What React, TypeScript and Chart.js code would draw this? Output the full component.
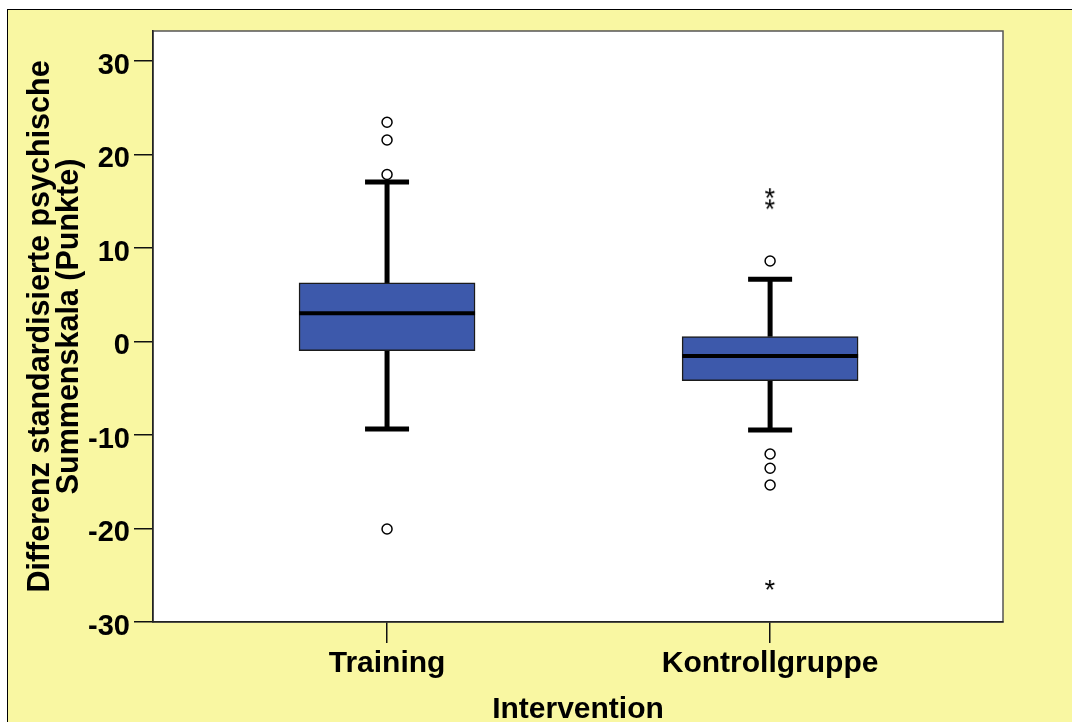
import { useEffect, useRef } from 'react';
import { Chart, registerables } from 'chart.js';

Chart.register(...registerables);

// Group labels along the x axis
const groups = ['Training', 'Kontrollgruppe'];

// Five-number summary per group (Punkte)
const lowerWhisker = [-9.36, -9.47];
const q1 = [-0.98, -4.19];
const median = [3.02, -1.55];
const q3 = [6.26, 0.51];
const upperWhisker = [17.06, 6.65];

// Outliers (circles) and extreme values (asterisks) per group
const outliers = [
  [23.44, 21.55, 17.86, -20.05],
  [8.61, -12.03, -13.56, -15.35],
];
const extremes = [
  [] as number[],
  [15.85, 14.67, -26.04],
];

// Value axis ticks
const yTicks = [-30, -20, -10, 0, 10, 20, 30];

const FONT = 'Arial, "Liberation Sans", sans-serif';
const BOX_FILL = '#3D59AB';
const PAGE_YELLOW = '#F9F7A2';

function makeAsterisk(): HTMLCanvasElement {
  const c = document.createElement('canvas');
  c.width = 20;
  c.height = 20;
  const ctx = c.getContext('2d')!;
  ctx.font = `27px ${FONT}`;
  ctx.fillStyle = '#000';
  ctx.textAlign = 'left';
  ctx.textBaseline = 'alphabetic';
  const m = ctx.measureText('*');
  const w = m.actualBoundingBoxLeft + m.actualBoundingBoxRight;
  const h = m.actualBoundingBoxAscent + m.actualBoundingBoxDescent;
  const x = 10 - w / 2 + m.actualBoundingBoxLeft;
  const y = 10 - h / 2 + m.actualBoundingBoxAscent;
  ctx.fillText('*', x, y);
  return c;
}

// Draws the white plot panel, its frame, whiskers and medians from the data arrays
const boxWhiskerPlugin = {
  id: 'boxWhiskers',
  beforeDraw(chart: any) {
    const { ctx, chartArea: a } = chart;
    ctx.save();
    ctx.fillStyle = '#fff';
    ctx.fillRect(a.left, a.top, a.right - a.left, a.bottom - a.top);
    ctx.strokeStyle = '#555';
    ctx.lineWidth = 1.5;
    ctx.strokeRect(a.left, a.top, a.right - a.left, a.bottom - a.top);
    ctx.restore();
  },
  beforeDatasetsDraw(chart: any) {
    const { ctx, scales } = chart;
    const xs = scales.x;
    const ys = scales.y;
    const capHalf = 22;
    ctx.save();
    ctx.strokeStyle = '#000';
    ctx.lineCap = 'butt';
    groups.forEach((_, i) => {
      const x = xs.getPixelForValue(i + 1);
      const yHi = ys.getPixelForValue(upperWhisker[i]);
      const yLo = ys.getPixelForValue(lowerWhisker[i]);
      const yQ3 = ys.getPixelForValue(q3[i]);
      const yQ1 = ys.getPixelForValue(q1[i]);
      ctx.lineWidth = 5;
      ctx.beginPath();
      ctx.moveTo(x, yQ3);
      ctx.lineTo(x, yHi);
      ctx.moveTo(x, yQ1);
      ctx.lineTo(x, yLo);
      ctx.stroke();
      ctx.beginPath();
      ctx.moveTo(x - capHalf, yHi);
      ctx.lineTo(x + capHalf, yHi);
      ctx.moveTo(x - capHalf, yLo);
      ctx.lineTo(x + capHalf, yLo);
      ctx.stroke();
    });
    ctx.restore();
  },
  afterDatasetDraw(chart: any, args: any) {
    const meta = args.meta;
    if (meta.type !== 'bar') return;
    const { ctx, scales } = chart;
    ctx.save();
    ctx.strokeStyle = '#000';
    ctx.lineWidth = 4;
    meta.data.forEach((bar: any, i: number) => {
      const y = scales.y.getPixelForValue(median[i]);
      const half = bar.width / 2;
      ctx.beginPath();
      ctx.moveTo(bar.x - half, y);
      ctx.lineTo(bar.x + half, y);
      ctx.stroke();
    });
    ctx.restore();
  },
};

export default function App() {
  const canvasRef = useRef<HTMLCanvasElement | null>(null);

  useEffect(() => {
    const canvas = canvasRef.current;
    if (!canvas) return;
    const asterisk = makeAsterisk();

    const circlePoints = outliers.flatMap((vals, i) => vals.map((v) => ({ x: i + 1, y: v })));
    const starPoints = extremes.flatMap((vals, i) => vals.map((v) => ({ x: i + 1, y: v })));

    const tickFont = { family: FONT, size: 29, weight: 'bold' as const };

    const chart = new Chart(canvas, {
      type: 'bar',
      data: {
        datasets: [
          {
            type: 'scatter',
            data: circlePoints,
            pointStyle: 'circle',
            pointRadius: 5,
            pointBackgroundColor: '#fff',
            pointBorderColor: '#000',
            pointBorderWidth: 1.5,
          } as any,
          {
            type: 'scatter',
            data: starPoints,
            pointStyle: asterisk,
            pointRadius: 10,
          } as any,
          {
            type: 'bar',
            data: groups.map((_, i) => ({ x: i + 1, y: [q1[i], q3[i]] })),
            backgroundColor: BOX_FILL,
            borderColor: '#1b1b1b',
            borderWidth: 1.5,
            borderSkipped: false,
            barThickness: 176,
          } as any,
        ],
      },
      options: {
        animation: false,
        responsive: false,
        events: [],
        layout: { padding: { top: 31, right: 69, bottom: 0, left: 0 } },
        plugins: {
          legend: { display: false },
          tooltip: { enabled: false },
        },
        scales: {
          x: {
            type: 'linear',
            min: 0.389,
            max: 2.608,
            offset: false,
            grid: {
              display: true,
              drawOnChartArea: false,
              tickLength: 21,
              color: '#111',
              lineWidth: 1.5,
              offset: false,
            },
            border: { display: true, color: '#222', width: 1.5 },
            afterBuildTicks: (scale: any) => {
              scale.ticks = groups.map((_, i) => ({ value: i + 1 }));
            },
            ticks: {
              callback: (_v: any, index: number) => groups[index],
              font: { family: FONT, size: 30, weight: 'bold' },
              color: '#000',
              padding: 3,
              maxRotation: 0,
              autoSkip: false,
            },
            title: {
              display: true,
              text: 'Intervention',
              color: '#000',
              font: { family: FONT, size: 30, weight: 'bold', lineHeight: 0.8 },
              padding: 0,
            },
            afterFit: (scale: any) => {
              scale.height = 100;
            },
          } as any,
          y: {
            type: 'linear',
            min: -30,
            max: 33.2,
            grid: {
              display: true,
              drawOnChartArea: false,
              tickLength: 19,
              color: '#111',
              lineWidth: 1.5,
            },
            border: { display: true, color: '#222', width: 1.5 },
            afterBuildTicks: (scale: any) => {
              scale.ticks = yTicks.map((v) => ({ value: v }));
            },
            ticks: {
              callback: (v: any) => String(v),
              font: tickFont,
              color: '#000',
              padding: 4,
              labelOffset: 5,
            },
            title: {
              display: true,
              text: ['Differenz standardisierte psychische', 'Summenskala (Punkte)'],
              color: '#000',
              font: { family: FONT, size: 30.5, weight: 'bold', lineHeight: 0.96 },
              padding: { top: 26, bottom: 0 },
            },
            afterFit: (scale: any) => {
              scale.width = 153;
            },
          } as any,
        },
      },
      plugins: [boxWhiskerPlugin],
    });

    return () => chart.destroy();
  }, []);

  return (
    <div
      style={{
        position: 'fixed',
        left: 0,
        top: 0,
        width: 1072,
        height: 722,
        background: '#fff',
        overflow: 'hidden',
      }}
    >
      <div
        style={{
          position: 'absolute',
          left: 7,
          top: 9,
          right: -2,
          bottom: -2,
          background: PAGE_YELLOW,
          borderLeft: '1px solid #000',
          borderTop: '1px solid #000',
        }}
      />
      <canvas
        ref={canvasRef}
        width={1072}
        height={722}
        style={{ position: 'absolute', left: 0, top: 0, width: 1072, height: 722 }}
      />
    </div>
  );
}
